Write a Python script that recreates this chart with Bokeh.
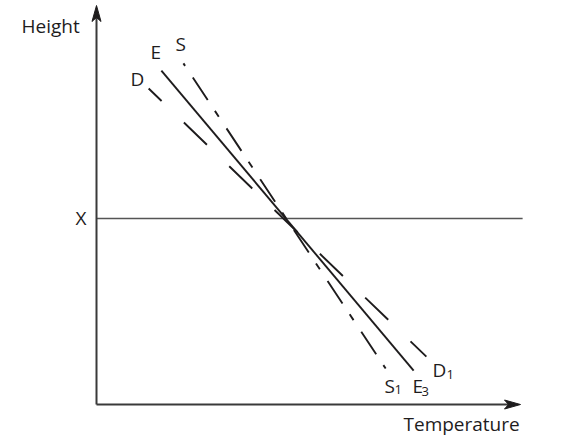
from bokeh.plotting import figure
from bokeh.models import Range1d
from bokeh.core.properties import value
from bokeh.embed import file_html
from bokeh.resources import INLINE

# ---- schematic data (arbitrary units: temperature 0-10, height 0-10) ----
E_temp = [1.53, 7.48]
E_height = [8.37, 0.85]
S_temp = [2.05, 6.82]
S_height = [8.55, 0.90]
D_temp = [1.23, 7.78]
D_height = [7.92, 1.20]
X_level = 4.66
X_line_end = 10.05
x_axis_end = 10.0
y_axis_end = 10.0

main_labels = ["Height", "X", "E", "S", "D", "S", "E", "D", "Temperature"]
sub_labels = ["1", "3", "1"]

# ---- layout (pixel geometry of the picture) ----
W, H = 577, 447
OX, OY = 96, 404          # pixel of the axis origin
SX, SY = 42.4, 39.9       # pixels per unit
TXT_SHIFT = 9             # baseline correction for rendered text


def ux(px):
    return (px - OX) / SX


def uy(py):
    return (OY - py) / SY


p = figure(width=W, height=H,
           x_range=Range1d(ux(0), ux(W)),
           y_range=Range1d(uy(H), uy(0)),
           output_backend="svg", toolbar_location=None,
           min_border=0, title=None)
p.axis.visible = False
p.grid.visible = False
p.outline_line_color = None
p.background_fill_color = "white"
p.border_fill_color = "white"

ink = "#1e1c1d"
axis_col = "#3a3a3a"

# horizontal X level line
p.line([0, X_line_end], [X_level, X_level], line_color="#555555", line_width=1.6)

# axes
p.line([0, 0], [0, y_axis_end - 10 / SY], line_color=axis_col, line_width=2)
p.line([0, x_axis_end - 10 / SX], [0, 0], line_color=axis_col, line_width=2)

# arrowheads (stealth shape), sizes in pixels
L, HW, N = 16, 4.5, 12
p.patch([0, -HW / SX, 0, HW / SX],
        [y_axis_end, y_axis_end - L / SY, y_axis_end - N / SY, y_axis_end - L / SY],
        fill_color=ink, line_color=ink)
p.patch([x_axis_end, x_axis_end - L / SX, x_axis_end - N / SX, x_axis_end - L / SX],
        [0, HW / SY, 0, -HW / SY],
        fill_color=ink, line_color=ink)

# curves
p.line(E_temp, E_height, line_color=ink, line_width=1.9)
p.line(S_temp, S_height, line_color=ink, line_width=1.9,
       line_dash="27 13 7 14", line_dash_offset=44)
p.line(D_temp, D_height, line_color=ink, line_width=1.9,
       line_dash="32 31", line_dash_offset=14)

# labels (left edge, baseline) in pixels
main_pos = [(21, 34), (75, 226), (150, 60), (175, 52), (130, 87),
            (384, 394), (412, 394), (432, 378), (403, 432)]
p.text(x=[ux(a) for a, b in main_pos], y=[uy(b - TXT_SHIFT) for a, b in main_pos],
       text=main_labels, text_font=value("Open Sans"), text_font_size="19px",
       text_color=ink, text_align="left", text_baseline="alphabetic")

sub_pos = [(394, 398), (421, 400), (446, 383)]
p.text(x=[ux(a) for a, b in sub_pos], y=[uy(b - TXT_SHIFT) for a, b in sub_pos],
       text=sub_labels, text_font=value("Open Sans"), text_font_size="13px",
       text_color=ink, text_align="left", text_baseline="alphabetic")

open("out.html", "w").write(file_html(p, INLINE))
